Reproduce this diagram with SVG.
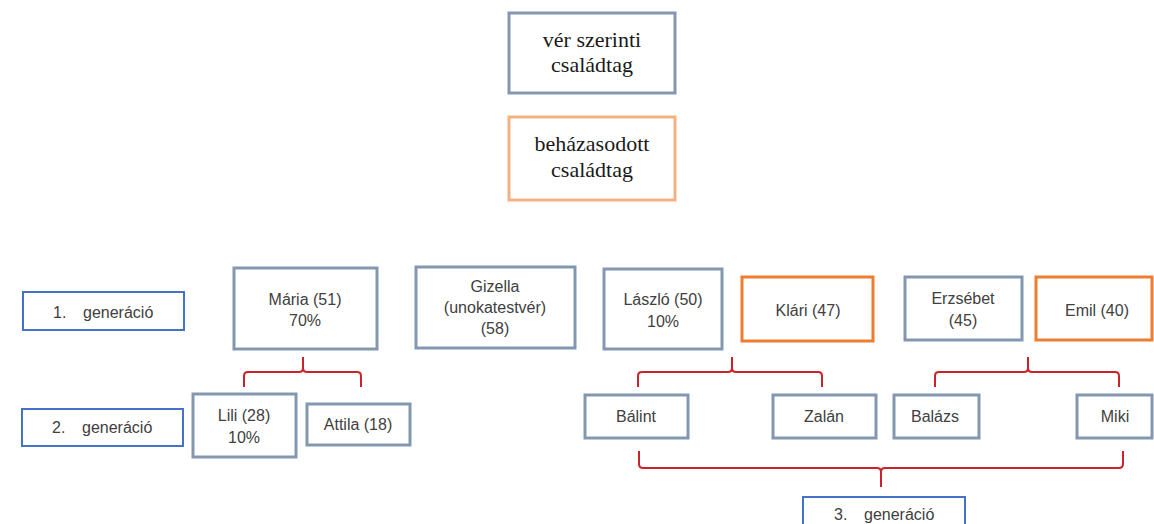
<svg xmlns="http://www.w3.org/2000/svg" width="1154" height="524" viewBox="0 0 1154 524">
<style>
.bl{fill:#fff;stroke:#8497b0;stroke-width:3}
.or{fill:#fff;stroke:#ed7d31;stroke-width:3}
.lor{fill:#fff;stroke:#f4b183;stroke-width:3}
.gen{fill:#fff;stroke:#4472c4;stroke-width:2}
.t{font-family:"Liberation Sans",Arial,sans-serif;font-size:16px;fill:#404040;text-anchor:middle}
.s{font-family:"Liberation Serif","Times New Roman",serif;font-size:22px;fill:#1a1a1a;text-anchor:middle}
.br{fill:none;stroke:#cc2229;stroke-width:2}
</style>
<rect width="1154" height="524" fill="#fff"/>
<g id="legend-ver">
<rect class="bl" x="509" y="13" width="166" height="80"/>
<text class="s" x="592" y="47">vér szerinti</text>
<text class="s" x="592" y="72">családtag</text>
</g>
<g id="legend-behazasodott">
<rect class="lor" x="509" y="117" width="166" height="83"/>
<text class="s" x="592" y="151">beházasodott</text>
<text class="s" x="592" y="177">családtag</text>
</g>
<g id="gen1">
<rect class="gen" x="23" y="292" width="161" height="38"/>
<text class="t" style="text-anchor:start" y="318"><tspan x="53">1.</tspan><tspan x="83">generáció</tspan></text>
</g>
<g id="gen2">
<rect class="gen" x="22" y="409" width="161" height="37"/>
<text class="t" style="text-anchor:start" y="433"><tspan x="52">2.</tspan><tspan x="82">generáció</tspan></text>
</g>
<g id="gen3">
<rect class="gen" x="803" y="497" width="162" height="40"/>
<text class="t" style="text-anchor:start" y="520"><tspan x="834">3.</tspan><tspan x="864">generáció</tspan></text>
</g>
<g id="maria">
<rect class="bl" x="234" y="268" width="143" height="81"/>
<text class="t" x="305" y="305">Mária (51)</text>
<text class="t" x="305" y="326">70%</text>
</g>
<g id="gizella">
<rect class="bl" x="416" y="267" width="159" height="81"/>
<text class="t" x="495" y="292">Gizella</text>
<text class="t" x="495" y="313">(unokatestvér)</text>
<text class="t" x="495" y="334">(58)</text>
</g>
<g id="laszlo">
<rect class="bl" x="604" y="269" width="118" height="80"/>
<text class="t" x="663" y="305">László (50)</text>
<text class="t" x="663" y="327">10%</text>
</g>
<g id="klari">
<rect class="or" x="742" y="277" width="131" height="64"/>
<text class="t" x="808" y="316">Klári (47)</text>
</g>
<g id="erzsebet">
<rect class="bl" x="905" y="277" width="117" height="63"/>
<text class="t" x="963" y="304">Erzsébet</text>
<text class="t" x="963" y="326">(45)</text>
</g>
<g id="emil">
<rect class="or" x="1036" y="277" width="116" height="63"/>
<text class="t" x="1097" y="316">Emil (40)</text>
</g>
<g id="lili">
<rect class="bl" x="193" y="394" width="103" height="63"/>
<text class="t" x="244" y="421">Lili (28)</text>
<text class="t" x="244" y="443">10%</text>
</g>
<g id="attila">
<rect class="bl" x="307" y="404" width="103" height="41"/>
<text class="t" x="358" y="430">Attila (18)</text>
</g>
<g id="balint">
<rect class="bl" x="585" y="395" width="103" height="43"/>
<text class="t" x="636" y="422">Bálint</text>
</g>
<g id="zalan">
<rect class="bl" x="773" y="395" width="103" height="43"/>
<text class="t" x="824" y="422">Zalán</text>
</g>
<g id="balazs">
<rect class="bl" x="894" y="395" width="85" height="43"/>
<text class="t" x="935" y="422">Balázs</text>
</g>
<g id="miki">
<rect class="bl" x="1077" y="395" width="75" height="43"/>
<text class="t" x="1115" y="422">Miki</text>
</g>
<g id="connectors">
<path class="br" d="M244,387 V376 Q244,372 248,372 H299 Q303,372 303,368 V357 M303,368 Q303,372 307,372 H357 Q361,372 361,376 V387"/>
<path class="br" d="M638,387 V376 Q638,372 642,372 H728 Q732,372 732,368 V357 M732,368 Q732,372 736,372 H818 Q822,372 822,376 V387"/>
<path class="br" d="M935,387 V376 Q935,372 939,372 H1024 Q1028,372 1028,368 V357 M1028,368 Q1028,372 1032,372 H1115 Q1119,372 1119,376 V387"/>
<path class="br" d="M639,451 V464 Q639,468 643,468 H877 Q881,468 881,472 V487 M881,472 Q881,468 885,468 H1119 Q1123,468 1123,464 V451"/>
</g>
</svg>
